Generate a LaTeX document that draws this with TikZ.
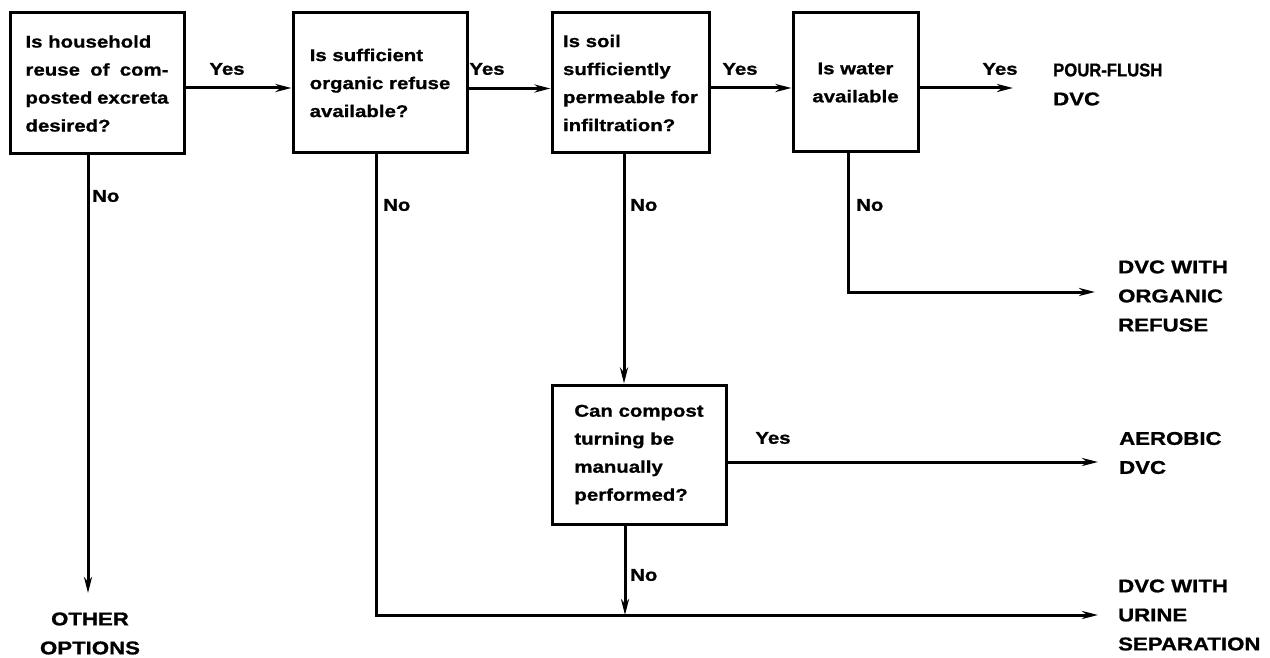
\documentclass[tikz,border=0pt]{standalone}
\usepackage{fontspec}
\setmainfont{Liberation Sans}[FakeStretch=1.2,BoldFeatures={FakeBold=1}]
\usetikzlibrary{arrows.meta}
\newcommand\bxf{\fontsize{17}{28}\selectfont\bfseries}
\newcommand\otf{\fontsize{18.5}{29}\selectfont\bfseries}
\begin{document}
\begin{tikzpicture}[x=1pt,y=1pt,
  qbox/.style={draw,line width=3pt,align=left,font=\bxf,inner sep=0pt},
  outl/.style={align=left,font=\otf,inner sep=0pt,anchor=west},
  lbl/.style={font=\bxf,inner sep=0pt},
  nolbl/.style={font=\bxf,inner sep=0pt,anchor=west},
  arr/.style={line width=3pt,-{Stealth[length=16pt,width=8pt,inset=5pt]}}]
\useasboundingbox (0,0) rectangle (1270,-658);
% decision boxes
\node[qbox,minimum width=174pt,minimum height=141pt] (b1) at (97,-83.5)
  {Is household\\\makebox[143pt][s]{reuse of com-}\\\makebox[143pt][s]{posted excreta}\\desired?};
\node[qbox,minimum width=174pt,minimum height=140pt] (b2) at (380,-83)
  {Is sufficient\\organic refuse\\available?};
\node[qbox,minimum width=157pt,minimum height=140pt] (b3) at (630.5,-83)
  {Is soil\\sufficiently\\permeable for\\infiltration?};
\node[qbox,align=center,minimum width=125pt,minimum height=139pt] (b4) at (855.5,-82.5)
  {Is water\\available};
\node[qbox,minimum width=174pt,minimum height=139pt] (b5) at (639,-454.5)
  {Can compost\\turning be\\manually\\performed?};
% outcomes
\node[outl] (pour) at (1053,-84.5) {\scalebox{0.75}[1]{POUR-FLUSH}\\DVC};
\node[outl] (org) at (1118,-296) {DVC WITH\\ORGANIC\\REFUSE};
\node[outl] (aer) at (1119,-453) {AEROBIC\\DVC};
\node[outl] (uri) at (1118,-615) {DVC WITH\\URINE\\SEPARATION};
\node[outl,anchor=center,align=center] (oth) at (90,-633.5) {OTHER\\OPTIONS};
% arrow tips
\coordinate (tPour) at (1013,-88);
\coordinate (tOrg) at (1095,-292);
\coordinate (tAer) at (1098,-462);
\coordinate (tUri) at (1098,-615);
\coordinate (tOth) at (88,-593);
% connectors
\draw[arr] ([yshift=-4.5pt]b1.east) -- ([yshift=-4.5pt]b1.east -| b2.west);
\draw[arr] ([yshift=-5.5pt]b2.east) -- ([yshift=-5.5pt]b2.east -| b3.west);
\draw[arr] ([yshift=-5pt]b3.east) -- ([yshift=-5pt]b3.east -| b4.west);
\draw[arr] ([yshift=-5.5pt]b4.east) -- ([yshift=-5.5pt]b4.east -| tPour);
\draw[arr] ([xshift=-9pt]b1.south) -- ([xshift=-9pt]b1.south |- tOth);
\draw[arr] ([xshift=-4pt]b2.south) |- (tUri);
\draw[arr] ([xshift=-6.5pt]b3.south) -- ([xshift=-6.5pt]b3.south |- b5.north);
\draw[arr] ([xshift=-7.5pt]b4.south) |- (tOrg);
\draw[arr] ([yshift=-7.5pt]b5.east) -- ([yshift=-7.5pt]b5.east -| tAer);
\draw[arr] ([xshift=-14pt]b5.south) -- ([xshift=-14pt]b5.south |- tUri);
% labels
\node[lbl] (y1) at (227,-69) {Yes};
\node[lbl] (y2) at (487,-69) {Yes};
\node[lbl] (y3) at (740,-69) {Yes};
\node[lbl] (y4) at (1000,-69) {Yes};
\node[lbl] (y5) at (773,-438) {Yes};
\node[nolbl] (n1) at (92,-196) {No};
\node[nolbl] (n2) at (383,-205) {No};
\node[nolbl] (n3) at (630,-205) {No};
\node[nolbl] (n4) at (856,-205) {No};
\node[nolbl] (n5) at (630,-575) {No};
\end{tikzpicture}
\end{document}
